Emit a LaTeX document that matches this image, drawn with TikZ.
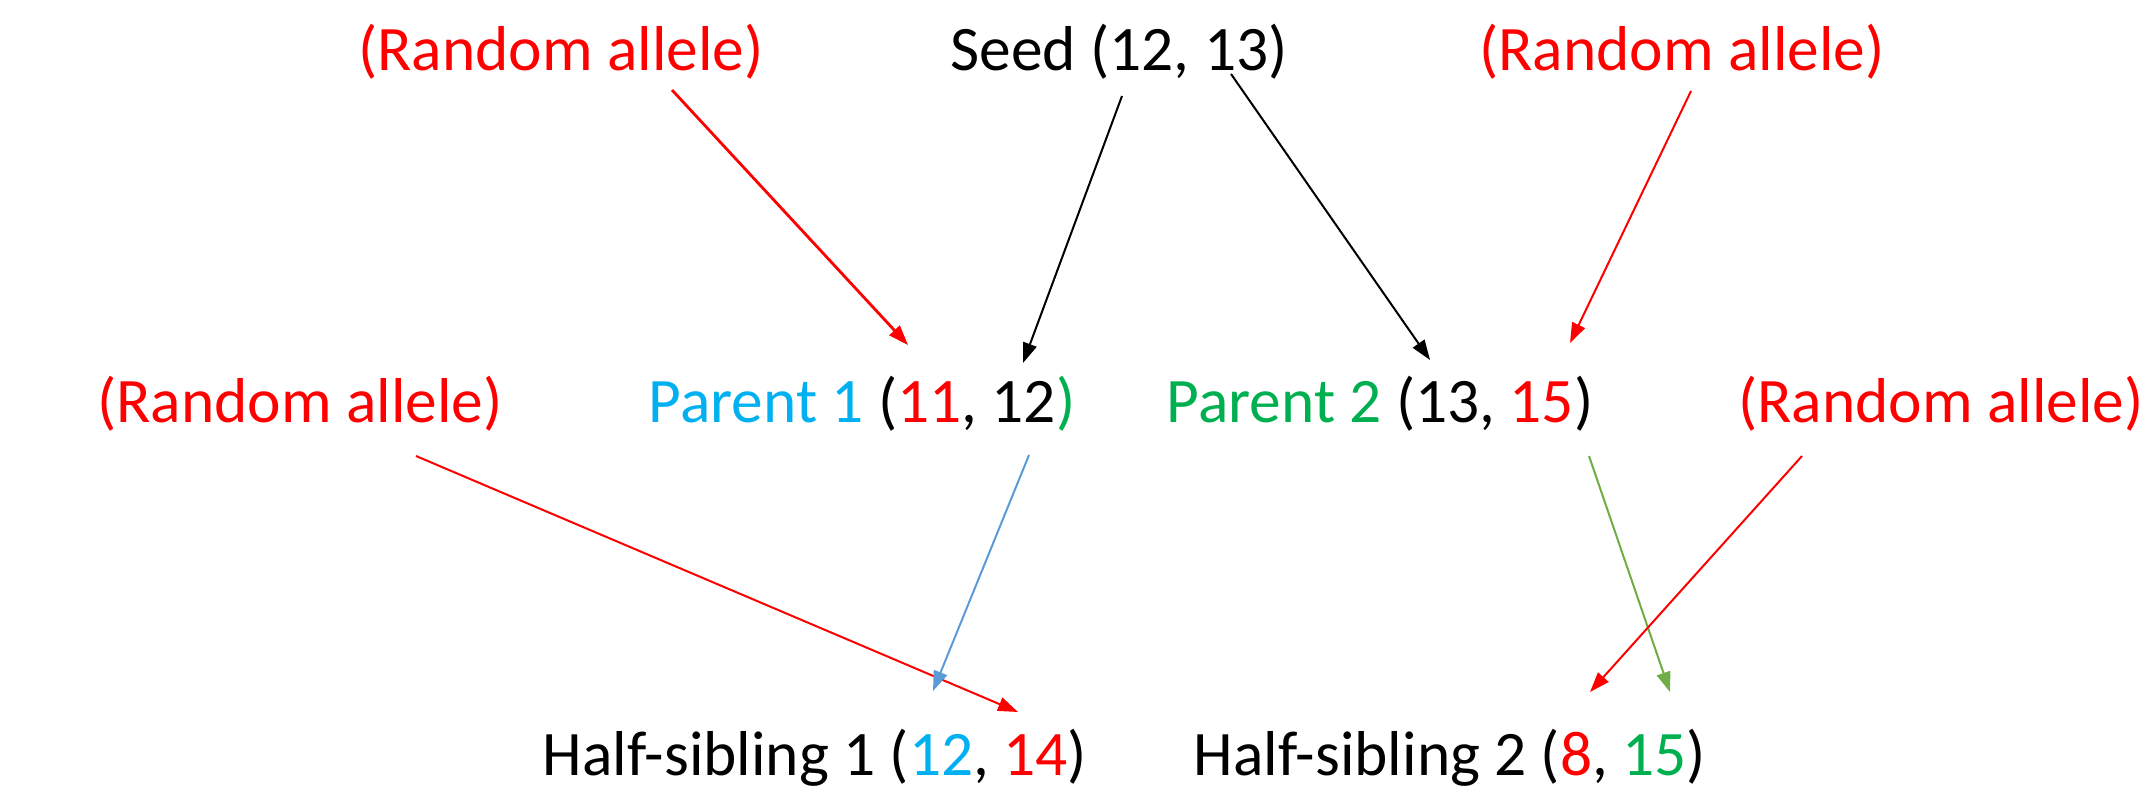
\documentclass[tikz,border=0pt]{standalone}
\usepackage{fontspec}
\setmainfont{Carlito}
\usetikzlibrary{arrows.meta}
\definecolor{myred}{HTML}{FF0000}
\definecolor{mycyan}{HTML}{00B0F0}
\definecolor{mygreen}{HTML}{00B050}
\definecolor{lineblue}{HTML}{5B9BD5}
\definecolor{linegreen}{HTML}{70AD47}
\tikzset{
  lbl/.style={anchor=base, inner sep=0pt, font=\fontsize{31.7}{38}\selectfont},
  arr/.style={line width=#1, -{Triangle[length=10pt,width=7pt]}},
  arr/.default=1pt
}
\begin{document}
\begin{tikzpicture}[x=0.5pt,y=-0.5pt]
\useasboundingbox (0,0) rectangle (2151,801);
% top row
\node[lbl, text=myred] (ra1) at (561,71) {(Random allele)};
\node[lbl] (seed) at (1119,71) {Seed (12, 13)};
\node[lbl, text=myred] (ra2) at (1682,71) {(Random allele)};
% middle row
\node[lbl, text=myred] (ra3) at (300,423) {(Random allele)};
\node[lbl] (p1) at (862,423) {\textcolor{mycyan}{Parent 1} (\textcolor{myred}{11}, 12\textcolor{mygreen}{)}};
\node[lbl] (p2) at (1380,423) {\textcolor{mygreen}{Parent 2} (13, \textcolor{myred}{15})};
\node[lbl, text=myred] (ra4) at (1941,423) {(Random allele)};
% bottom row
\node[lbl] (hs1) at (815,775) {Half-sibling 1 (\textcolor{mycyan}{12}, \textcolor{myred}{14})};
\node[lbl] (hs2) at (1450,775) {Half-sibling 2 (\textcolor{myred}{8}, \textcolor{mygreen}{15})};
% connector end points
\coordinate (a1s) at (672,90);   \coordinate (a1e) at (908,345);
\coordinate (a2s) at (1122,96);  \coordinate (a2e) at (1023,363);
\coordinate (a3s) at (1231,74);  \coordinate (a3e) at (1430,360);
\coordinate (a4s) at (1691,91);  \coordinate (a4e) at (1570,343);
\coordinate (a5s) at (416,456);  \coordinate (a5e) at (1018,712);
\coordinate (a6s) at (1029,455); \coordinate (a6e) at (933,691);
\coordinate (a7s) at (1589,456); \coordinate (a7e) at (1670,692);
\coordinate (a8s) at (1802,456); \coordinate (a8e) at (1590,692);
\draw[arr=1.4pt, myred] (a1s) -- (a1e);
\draw[arr, black] (a2s) -- (a2e);
\draw[arr, black] (a3s) -- (a3e);
\draw[arr, myred] (a4s) -- (a4e);
\draw[arr, myred] (a5s) -- (a5e);
\draw[arr, lineblue] (a6s) -- (a6e);
\draw[arr, linegreen] (a7s) -- (a7e);
\draw[arr, myred] (a8s) -- (a8e);
\end{tikzpicture}
\end{document}
